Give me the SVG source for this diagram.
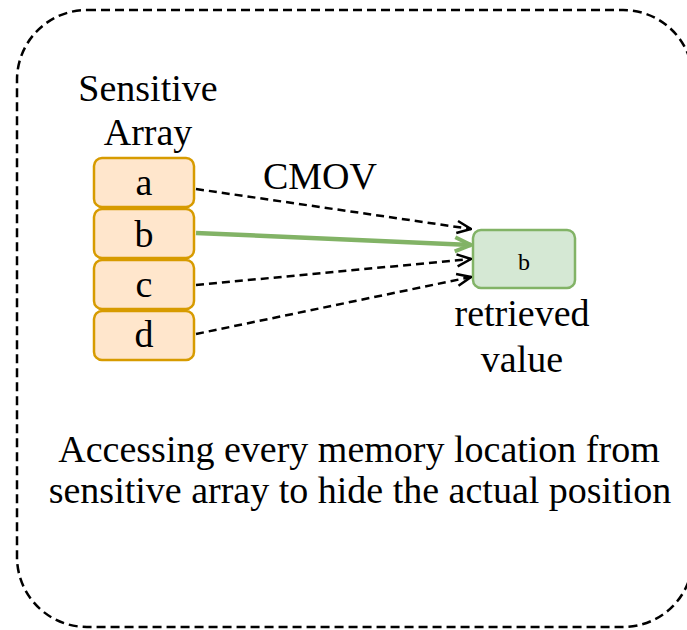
<svg xmlns="http://www.w3.org/2000/svg" width="687" height="630" viewBox="0 0 687 630">
  <style>
    .txt { font-family: "Liberation Serif", "Times New Roman", serif; fill: #000; }
    .cell { fill: #ffe6cc; stroke: #d79b00; stroke-width: 2.5; }
    .out { fill: #d5e8d4; stroke: #82b366; stroke-width: 2.5; }
    .dash { fill: none; stroke: #000; stroke-width: 2.5; stroke-dasharray: 8 5; }
    .sel { fill: none; stroke: #82b366; stroke-width: 4.5; }
  </style>
  <defs>
    <marker id="open" viewBox="0 0 16 16" refX="15" refY="8" markerWidth="16" markerHeight="16" markerUnits="userSpaceOnUse" orient="auto">
      <path d="M1 2 L15 8 L1 14" fill="none" stroke="#000" stroke-width="2.5"/>
    </marker>
    <marker id="openGreen" viewBox="0 0 20 20" refX="18" refY="10" markerWidth="20" markerHeight="20" markerUnits="userSpaceOnUse" orient="auto">
      <path d="M2 3 L18 10 L2 17" fill="none" stroke="#82b366" stroke-width="4"/>
    </marker>
  </defs>

  <!-- enclosing dashed frame -->
  <g id="frame">
    <rect x="17" y="10" width="676" height="617" rx="70" ry="70" fill="none" stroke="#000" stroke-width="2.5" stroke-dasharray="9 5"/>
  </g>

  <!-- array label -->
  <g id="array-label">
    <text class="txt" x="148" y="101" font-size="38" text-anchor="middle">Sensitive</text>
    <text class="txt" x="148" y="145" font-size="38" text-anchor="middle">Array</text>
  </g>

  <!-- array cells -->
  <g id="cell-a">
    <rect class="cell" x="94" y="158" width="100" height="49" rx="8"/>
    <text class="txt" x="144" y="195" font-size="38" text-anchor="middle">a</text>
  </g>
  <g id="cell-b">
    <rect class="cell" x="94" y="209" width="100" height="49" rx="8"/>
    <text class="txt" x="144" y="247" font-size="38" text-anchor="middle">b</text>
  </g>
  <g id="cell-c">
    <rect class="cell" x="94" y="260" width="100" height="49" rx="8"/>
    <text class="txt" x="144" y="297" font-size="38" text-anchor="middle">c</text>
  </g>
  <g id="cell-d">
    <rect class="cell" x="94" y="311" width="100" height="49" rx="8"/>
    <text class="txt" x="144" y="347" font-size="38" text-anchor="middle">d</text>
  </g>

  <!-- result cell -->
  <g id="result">
    <rect class="out" x="473" y="230" width="102" height="58" rx="8"/>
    <text class="txt" x="524" y="270" font-size="24" text-anchor="middle">b</text>
    <text class="txt" x="522" y="326" font-size="38" text-anchor="middle">retrieved</text>
    <text class="txt" x="522" y="372" font-size="38" text-anchor="middle">value</text>
  </g>

  <!-- connectors -->
  <g id="connectors">
    <path class="dash" d="M196 189 L471 229" marker-end="url(#open)"/>
    <path class="sel" d="M196 233 L471 245" marker-end="url(#openGreen)"/>
    <path class="dash" d="M196 285 L471 259" marker-end="url(#open)"/>
    <path class="dash" d="M196 334 L471 277" marker-end="url(#open)"/>
    <text class="txt" x="320" y="189" font-size="38" text-anchor="middle">CMOV</text>
  </g>

  <!-- caption -->
  <g id="caption">
    <text class="txt" x="359" y="462" font-size="38" text-anchor="middle">Accessing every memory location from</text>
    <text class="txt" x="360" y="503" font-size="38" text-anchor="middle">sensitive array to hide the actual position</text>
  </g>
</svg>
